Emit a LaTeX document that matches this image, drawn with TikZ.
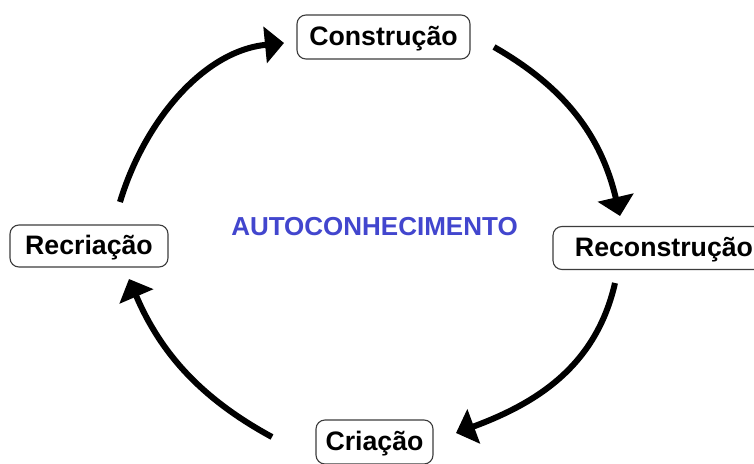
\documentclass[tikz,border=0pt]{standalone}
\usepackage{fontspec}
\setmainfont{Liberation Sans}
\usetikzlibrary{arrows.meta}
\definecolor{boxline}{RGB}{60,60,60}
\definecolor{autoblue}{RGB}{66,70,206}
\tikzset{
  stage/.style={draw=boxline, line width=1.1pt, rounded corners=9pt, fill=white,
    inner sep=0pt, text height=19pt, text depth=2pt,
    font=\fontsize{26.7}{30}\selectfont\bfseries},
  cyc/.style={line width=6pt, -{Triangle[length=19pt,width=36pt]}},
}
\begin{document}
\begin{tikzpicture}[x=1pt,y=-1pt]
\useasboundingbox (0,0) rectangle (754,463);
\clip (0,0) rectangle (754,463);
\fill[white] (0,0) rectangle (754,463);
\node[stage, minimum width=173pt, minimum height=44pt] (constr) at (383.5,37) {Construção};
\node[stage, minimum width=222pt, minimum height=43pt] (recon) at (664,248) {Reconstrução};
\node[stage, minimum width=158pt, minimum height=42pt] (recri) at (89,246) {Recriação};
\node[stage, minimum width=117pt, minimum height=44pt] (cria) at (374.5,442) {Criação};
\node[font=\fontsize{26}{30}\selectfont\bfseries, text=autoblue, inner sep=0pt,
  text height=19pt, text depth=0pt] (auto) at (374.5,225.5) {AUTOCONHECIMENTO};
\coordinate (a1s) at (120,202);
\coordinate (a1e) at (284,43);
\coordinate (a2s) at (494,47);
\coordinate (a2e) at (620,216);
\coordinate (a3s) at (615,283);
\coordinate (a3e) at (456,433);
\coordinate (a4s) at (272,437);
\coordinate (a4e) at (129,279);
\draw[cyc] (a1s) .. controls (144,122) and (203,51) .. (a1e);
\draw[cyc] (a2s) .. controls (564,87) and (601,135) .. (a2e);
\draw[cyc] (a3s) .. controls (596,366) and (537,403) .. (a3e);
\draw[cyc] (a4s) .. controls (202,399) and (161,354) .. (a4e);
\end{tikzpicture}
\end{document}
